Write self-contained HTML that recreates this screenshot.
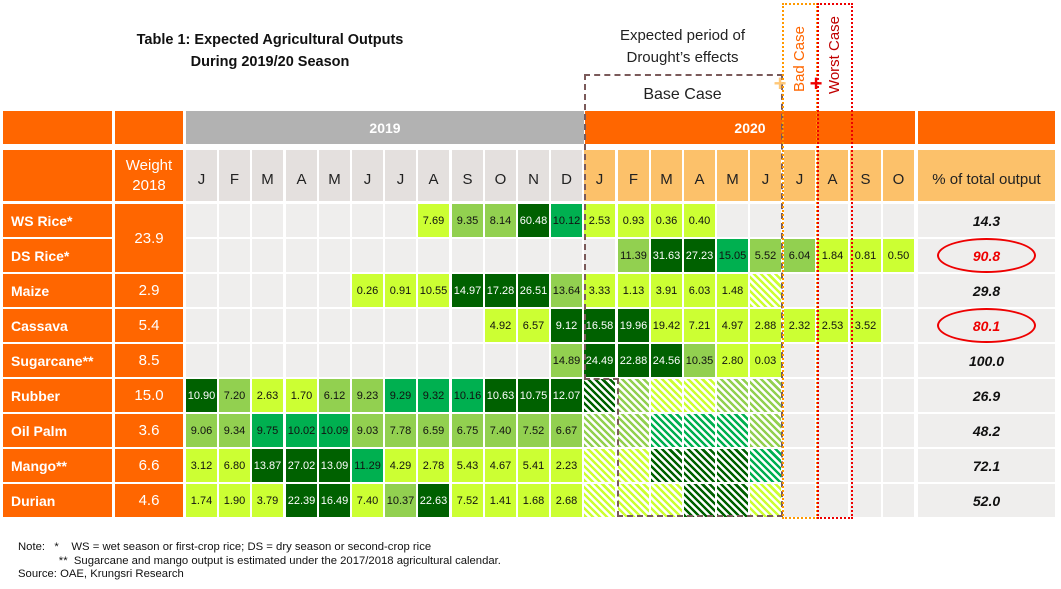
<!DOCTYPE html>
<html><head><meta charset="utf-8"><style>
body{margin:0;width:1061px;height:589px;background:#fff;position:relative;overflow:hidden;font-family:"Liberation Sans",sans-serif}
div{position:absolute;box-sizing:border-box}
.c{display:flex;align-items:center;justify-content:center;text-align:center}
.t{font-size:11px;color:#111}
</style></head><body>
<div class="c" style="left:95px;top:28px;width:350px;height:46px;font-weight:bold;font-size:14.5px;line-height:22px;color:#111">Table 1: Expected Agricultural Outputs<br>During 2019/20 Season</div>
<div class="c" style="left:595px;top:24px;width:175px;height:46px;font-size:15px;line-height:22px;color:#222">Expected period of<br>Drought’s effects</div>
<div class="c" style="left:600px;top:82px;width:165px;height:26px;font-size:16px;color:#222">Base Case</div>
<div id="g"></div>
<div style="left:584px;top:74px;width:199px;height:306px;border-top:2px dashed #7a5a5a;border-left:2px dashed #7a5a5a"></div>
<div style="left:584px;top:378px;width:35px;height:2px;border-top:2px dashed #7a5a5a"></div>
<div style="left:617px;top:378px;width:2px;height:139px;border-left:2px dashed #7a5a5a"></div>
<div style="left:617px;top:515px;width:166px;height:2px;border-top:2px dashed #7a5a5a"></div>
<div style="left:781px;top:74px;width:2px;height:443px;border-left:2px dashed #7a5a5a"></div>
<div style="left:782px;top:3px;width:36px;height:516px;border:2px dotted #ff9900"></div>
<div style="left:817px;top:3px;width:36px;height:516px;border:2px dotted #ee0000"></div>
<div class="c" style="width:100px;height:20px;transform:rotate(-90deg);font-size:15px;color:#ff6600;left:749px;top:49px">Bad Case</div>
<div class="c" style="left:784px;top:45px;width:100px;height:20px;transform:rotate(-90deg);font-size:15px;color:#c00000">Worst Case</div>
<div class="c" style="left:772px;top:76px;width:16px;height:16px;font-size:22px;font-weight:bold;color:#ffc878">+</div>
<div class="c" style="left:808px;top:76px;width:16px;height:16px;font-size:22px;font-weight:bold;color:#e00">+</div>
<div style="left:18px;top:541px;font-size:11.3px;color:#111;line-height:13.5px;white-space:pre">Note:   *    WS = wet season or first-crop rice; DS = dry season or second-crop rice
             **  Sugarcane and mango output is estimated under the 2017/2018 agricultural calendar.
Source: OAE, Krungsri Research</div>
<script>
var g=document.getElementById('g'),h='';
function box(x,y,w,hh,st,txt,cls){h+='<div class="c '+(cls||'')+'" style="left:'+x+'px;top:'+y+'px;width:'+w+'px;height:'+hh+'px;'+st+'">'+(txt||'')+'</div>';}
var OR='#ff6600';
box(3,111,109,33,'background:'+OR);box(115,111,68,33,'background:'+OR);
box(186,111,398,33,'background:#b2b2b2;color:#fff;font-weight:bold;font-size:14px','2019');
box(585,111,330,33,'background:'+OR+';color:#fff;font-weight:bold;font-size:14px','2020');
box(918,111,137,33,'background:'+OR);
box(3,150,109,51,'background:'+OR);
box(115,150,68,51,'background:'+OR+';color:#fff;font-size:15px;line-height:20px','Weight<br>2018');
var M='JFMAMJJASONDJFMAMJJASO';
function cx(i){return Math.round(186+i*33.2);}
for(var i=0;i<22;i++)box(cx(i),150,31,51,'background:'+(i<12?'#e4e0de':'#fcc16a')+';font-size:15px;color:#222;padding-top:8px',M[i]);
box(918,150,137,51,'background:#fcc16a;font-size:15px;color:#222;padding-top:8px','% of total output');
var C={L:'#ccff33',G:'#92d050',M:'#00b050',D:'#006100'};
var rows=[
['WS Rice*','',{7:'7.69L',8:'9.35G',9:'8.14G',10:'60.48D',11:'10.12M',12:'2.53L',13:'0.93L',14:'0.36L',15:'0.40L'},'14.3',0],
['DS Rice*','',{13:'11.39G',14:'31.63D',15:'27.23D',16:'15.05M',17:'5.52G',18:'6.04G',19:'1.84L',20:'0.81L',21:'0.50L'},'90.8',1],
['Maize','2.9',{5:'0.26L',6:'0.91L',7:'10.55L',8:'14.97D',9:'17.28D',10:'26.51D',11:'13.64G',12:'3.33L',13:'1.13L',14:'3.91L',15:'6.03L',16:'1.48L',17:'hL'},'29.8',0],
['Cassava','5.4',{9:'4.92L',10:'6.57L',11:'9.12D',12:'16.58D',13:'19.96D',14:'19.42L',15:'7.21L',16:'4.97L',17:'2.88L',18:'2.32L',19:'2.53L',20:'3.52L'},'80.1',1],
['Sugarcane**','8.5',{11:'14.89G',12:'24.49D',13:'22.88D',14:'24.56D',15:'10.35G',16:'2.80L',17:'0.03L'},'100.0',0],
['Rubber','15.0',{0:'10.90D',1:'7.20G',2:'2.63L',3:'1.70L',4:'6.12G',5:'9.23G',6:'9.29M',7:'9.32M',8:'10.16M',9:'10.63D',10:'10.75D',11:'12.07D',12:'hD',13:'hG',14:'hL',15:'hL',16:'hG',17:'hG'},'26.9',0],
['Oil Palm','3.6',{0:'9.06G',1:'9.34G',2:'9.75M',3:'10.02M',4:'10.09M',5:'9.03G',6:'7.78G',7:'6.59G',8:'6.75G',9:'7.40G',10:'7.52G',11:'6.67G',12:'hG',13:'hG',14:'hM',15:'hM',16:'hM',17:'hG'},'48.2',0],
['Mango**','6.6',{0:'3.12L',1:'6.80L',2:'13.87D',3:'27.02D',4:'13.09D',5:'11.29M',6:'4.29L',7:'2.78L',8:'5.43L',9:'4.67L',10:'5.41L',11:'2.23L',12:'hL',13:'hL',14:'hD',15:'hD',16:'hD',17:'hM'},'72.1',0],
['Durian','4.6',{0:'1.74L',1:'1.90L',2:'3.79L',3:'22.39D',4:'16.49D',5:'7.40L',6:'10.37G',7:'22.63D',8:'7.52L',9:'1.41L',10:'1.68L',11:'2.68L',12:'hL',13:'hL',14:'hL',15:'hD',16:'hD',17:'hL'},'52.0',0]];
rows.forEach(function(r,k){var y=204+k*35;
box(3,y,109,33,'background:'+OR+';color:#fff;font-weight:bold;font-size:14px;justify-content:flex-start;padding-left:8px',r[0]);
if(k!=1)box(115,y,68,k==0?68:33,'background:'+OR+';color:#fff;font-size:15px',k==0?'23.9':r[1]);
for(var i=0;i<22;i++){var v=r[2][i],st='background:#efeeed',t='';
 if(v){var c=C[v.slice(-1)];
  if(v[0]=='h')st='background:repeating-linear-gradient(45deg,'+c+' 0 2.5px,#fff 2.5px 5px)';
  else{st='background:'+c+';color:'+(v.slice(-1)=='D'?'#fff':'#111');t=v.slice(0,-1);}}
 box(cx(i),y,31,33,st,t,'t');}
box(918,y,137,33,'background:#efeeed;font-weight:bold;font-style:italic;font-size:14px;color:'+(r[4]?'#e00':'#111'),r[3]);
if(r[4])box(937,y-1,99,35,'border:2px solid #e00;border-radius:50%');
});
g.outerHTML=h;
</script>
</body></html>
